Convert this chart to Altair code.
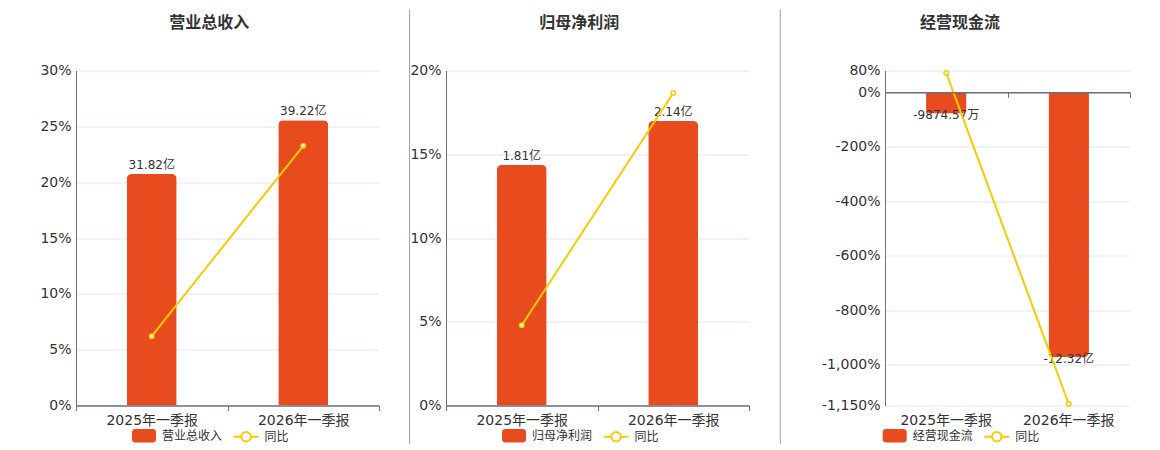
import altair as alt
import pandas as pd

# ---------------- data ----------------
periods = ["2025年一季报", "2026年一季报"]
yoy_name = "同比"

titles = ["营业总收入", "归母净利润", "经营现金流"]

rev_values = [31.82, 39.22]            # 亿
rev_labels = ["31.82亿", "39.22亿"]
rev_yoy = [6.21, 23.26]                # %

np_values = [1.81, 2.14]               # 亿
np_labels = ["1.81亿", "2.14亿"]
np_yoy = [4.79, 18.66]                 # %

cf_values = [-0.987457, -12.32]        # 亿
cf_labels = ["-9874.57万", "-12.32亿"]
cf_yoy = [71.2, -1144.5]               # %

rev_ticks = [0, 5, 10, 15, 20, 25, 30]
np_ticks = [0, 5, 10, 15, 20]
cf_ticks = [80, 0, -200, -400, -600, -800, -1000, -1150]

# ---------------- style ----------------
FONT = "'DejaVu Sans', 'Noto Sans CJK SC', sans-serif"
RED = "#E84C1E"
YEL = "#F5CC00"
AXIS = "#6E7079"
GRID = "#E0E6F1"
TXT = "#333333"
SEP = "#A0A0A0"
H = 335

RECT_PATH = ("M-0.75,-0.56H0.75A0.25,0.25 0 0 1 1,-0.31V0.31A0.25,0.25 0 0 1 0.75,0.56"
             "H-0.75A0.25,0.25 0 0 1 -1,0.31V-0.31A0.25,0.25 0 0 1 -0.75,-0.56Z")
LINE_PATH = ("M-1,0H-0.38M0.38,0H1M0.38,0A0.38,0.38 0 1 1 -0.38,0"
             "A0.38,0.38 0 1 1 0.38,0")


def build_panel(title, values, labels, yoy, width, y_dom, y_ticks, y_label_expr,
                bar_dom, negative, title_x, sep_x, sep_color, legend_x):
    df = pd.DataFrame({"period": periods, "value": values, "label": labels, "yoy": yoy})
    df["name"] = title
    df["s"] = yoy_name

    xscale = alt.Scale(domain=periods, paddingInner=0, paddingOuter=0)
    zero_off = -(H - H * y_dom[1] / (y_dom[1] - y_dom[0]))

    if negative:
        ax_bar = alt.Axis(orient="bottom", offset=zero_off, labels=False, ticks=True,
                          tickBand="extent", tickSize=5, tickColor=AXIS, domain=True,
                          domainColor=AXIS, domainWidth=1.5, grid=False, zindex=1, title=None)
        ax_line = alt.Axis(orient="bottom", labels=True, ticks=False, domain=False,
                           labelPadding=8, grid=False, labelAngle=0, title=None)
    else:
        ax_bar = alt.Axis(orient="bottom", labels=True, ticks=True, tickBand="extent",
                          tickSize=5, tickColor=AXIS, domain=True, domainColor=AXIS,
                          domainWidth=1.5, labelPadding=3, grid=False, labelAngle=0,
                          zindex=1, title=None)
        ax_line = ax_bar

    ybar = alt.Y("value:Q", scale=alt.Scale(domain=bar_dom, nice=False, zero=False), axis=None)
    yaxis = alt.Axis(orient="left", values=y_ticks, labelExpr=y_label_expr, grid=True,
                     gridColor=GRID, ticks=False, domain=True, domainColor=AXIS,
                     labelPadding=5, title=None, labelOverlap=False)
    yline = alt.Y("yoy:Q", scale=alt.Scale(domain=y_dom, nice=False, zero=False), axis=yaxis)

    if negative:
        bar_kw = dict(cornerRadiusBottomLeft=5, cornerRadiusBottomRight=5)
        txt_kw = dict(baseline="top", dy=-3)
    else:
        bar_kw = dict(cornerRadiusTopLeft=5, cornerRadiusTopRight=5)
        txt_kw = dict(baseline="alphabetic", dy=-5)

    base = alt.Chart(df)
    bar = base.mark_bar(width=alt.RelativeBandSize(band=0.33), **bar_kw).encode(
        x=alt.X("period:N", scale=xscale, sort=periods, axis=ax_bar),
        y=ybar,
        fill=alt.Fill("name:N", scale=alt.Scale(domain=[title], range=[RED]),
                      legend=alt.Legend(title=None, orient="none", legendX=legend_x,
                                        legendY=353.3, symbolType=RECT_PATH, symbolSize=576,
                                        symbolStrokeWidth=0, symbolOpacity=1, padding=0,
                                        labelFont=FONT, labelFontSize=12, labelColor=TXT,
                                        labelOffset=6)),
    )
    txt = base.mark_text(font=FONT, fontSize=12, color=TXT, align="center", **txt_kw).encode(
        x=alt.X("period:N", scale=xscale, sort=periods, axis=ax_bar),
        y=ybar,
        text="label:N",
    )
    line = base.mark_line(strokeWidth=2).encode(
        x=alt.X("period:N", scale=xscale, sort=periods, axis=ax_line),
        y=yline,
        stroke=alt.Stroke("s:N", scale=alt.Scale(domain=[yoy_name], range=[YEL]),
                          legend=alt.Legend(title=None, orient="none", legendX=legend_x + 100.6,
                                            legendY=352.8, symbolType=LINE_PATH, symbolSize=625,
                                            symbolStrokeWidth=2, symbolFillColor="white",
                                            padding=0, labelFont=FONT, labelFontSize=12,
                                            labelColor=TXT, labelOffset=5)),
    )
    pts = base.mark_point(shape="circle", size=20, filled=True, fill="white", stroke=YEL,
                          strokeWidth=1.5, opacity=1).encode(
        x=alt.X("period:N", scale=xscale, sort=periods, axis=ax_line),
        y=yline,
    )

    sep = alt.Chart(pd.DataFrame({"k": [0]})).mark_rule(color=sep_color, strokeWidth=1).encode(
        x=alt.value(sep_x), y=alt.value(-60.7), y2=alt.value(373.3)
    )
    ttl = alt.Chart(pd.DataFrame({"t": [title]})).mark_text(
        font=FONT, fontSize=16, fontWeight="bold", color=TXT, align="center", baseline="middle"
    ).encode(text="t:N", x=alt.value(title_x), y=alt.value(-47.7))

    p = alt.layer(alt.layer(bar, txt), alt.layer(line, pts), sep, ttl).resolve_scale(y="independent")
    if negative:
        p = p.resolve_axis(x="independent")
    return p.properties(width=width, height=H)


pct_expr = "datum.value + '%'"
neg_expr = "(datum.value < 0 ? '-' : '') + format(abs(datum.value), ',') + '%'"

p1 = build_panel(titles[0], rev_values, rev_labels, rev_yoy, 303, [0, 30], rev_ticks, pct_expr,
                 [0, 46.06], False, 133.3, -67.2, "white", 56)
p2 = build_panel(titles[1], np_values, np_labels, np_yoy, 303, [0, 20], np_ticks, pct_expr,
                 [0, 2.52], False, 133.3, -36.4, SEP, 56)
p3 = build_panel(titles[2], cf_values, cf_labels, cf_yoy, 245, [-1150, 80], cf_ticks, neg_expr,
                 [-14.57, 1.01], True, 75, -104.7, SEP, -2.3)

chart = (
    alt.hconcat(p1, p2, p3, spacing=29)
    .resolve_scale(fill="independent", stroke="independent")
    .resolve_legend(fill="independent", stroke="independent")
    .properties(padding={"left": 0, "top": 0.5, "right": 5, "bottom": 5}, background="white")
    .configure_view(strokeWidth=0)
    .configure_axis(labelFont=FONT, labelFontSize=14, labelColor=TXT)
)

chart.save("out.html", embed_options={"renderer": "svg", "actions": False})
